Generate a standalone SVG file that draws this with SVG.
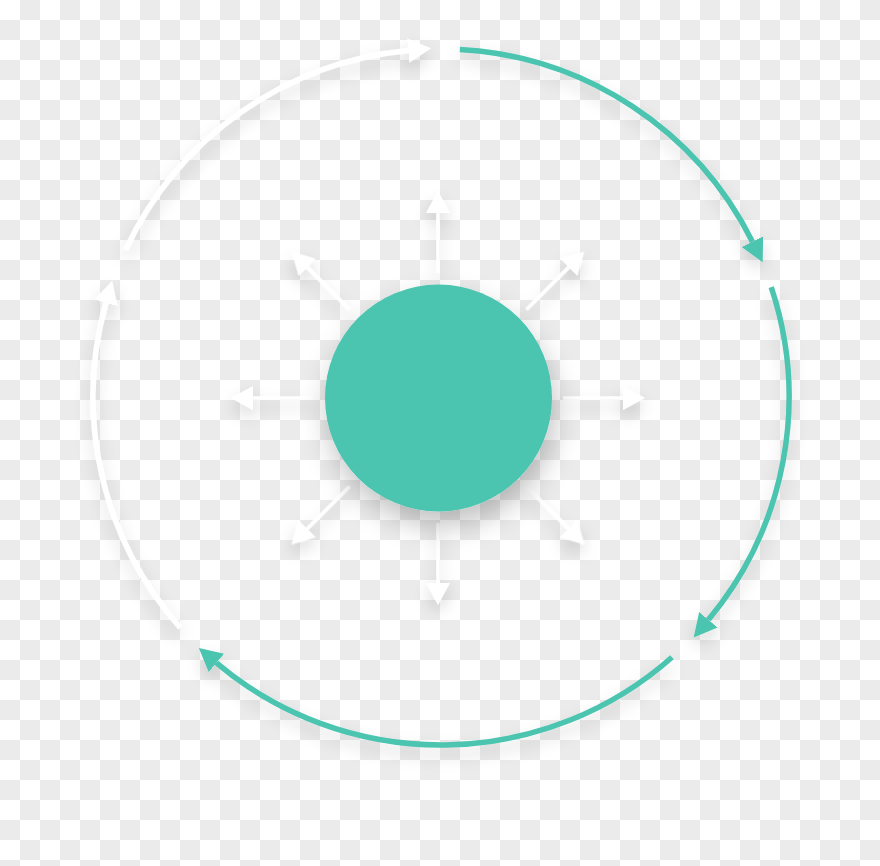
<svg xmlns="http://www.w3.org/2000/svg" width="880" height="866" viewBox="0 0 880 866">
  <defs>
    <pattern id="checker" x="0" y="0" width="40" height="40" patternUnits="userSpaceOnUse">
      <rect width="40" height="40" fill="#ffffff"/>
      <rect x="20" y="0" width="20" height="20" fill="#ebebeb"/>
      <rect x="0" y="20" width="20" height="20" fill="#ebebeb"/>
    </pattern>
    <filter id="shadowBig" x="-40%" y="-40%" width="180%" height="180%">
      <feDropShadow dx="3" dy="14" stdDeviation="14" flood-color="#000" flood-opacity="0.24"/>
    </filter>
    <filter id="shadowSoft" x="-30%" y="-30%" width="160%" height="160%">
      <feDropShadow dx="0" dy="8" stdDeviation="8" flood-color="#000" flood-opacity="0.16"/>
    </filter>
    <marker id="headTeal" markerUnits="userSpaceOnUse" markerWidth="26" markerHeight="28" viewBox="0 -14 26 28" refX="0" refY="0" orient="auto">
      <path d="M0,-12 L23,0 L0,12 z" fill="#4bc4b0"/>
    </marker>
    <marker id="headWhite" markerUnits="userSpaceOnUse" markerWidth="26" markerHeight="28" viewBox="0 -14 26 28" refX="0" refY="0" orient="auto">
      <path d="M0,-12 L23,0 L0,12 z" fill="#ffffff"/>
    </marker>
    <g id="ray">
      <line x1="0" y1="-125" x2="0" y2="-188" stroke="#ffffff" stroke-width="3.5"/>
      <path d="M0,-207 L12,-185 L-12,-185 z" fill="#ffffff"/>
    </g>
  </defs>
  <style>
    .teal { fill: none; stroke: #4bc4b0; stroke-width: 5.5; }
    .white { fill: none; stroke: #ffffff; stroke-width: 5.5; }
  </style>

  <rect id="background" x="0" y="0" width="880" height="866" fill="url(#checker)"/>

  <g id="connectors">
    <g id="outer-ring" filter="url(#shadowSoft)">
      <path class="teal" d="M459.8,49.5 A348,348 0 0 1 752.4,241.7" marker-end="url(#headTeal)"/>
      <path class="teal" d="M771.2,287.2 A348,348 0 0 1 708.4,619.8" marker-end="url(#headTeal)"/>
      <path class="teal" d="M672.0,657.2 A348,348 0 0 1 216.4,662.8" marker-end="url(#headTeal)"/>
      <path class="white" d="M180.3,627.6 A348,348 0 0 1 106.0,302.8" marker-end="url(#headWhite)"/>
      <path class="white" d="M125.6,249.9 A348,348 0 0 1 408.3,50.5" marker-end="url(#headWhite)"/>
    </g>
    <g id="rays" filter="url(#shadowSoft)" transform="translate(438,398)">
      <use href="#ray"/>
      <use href="#ray" transform="rotate(45)"/>
      <use href="#ray" transform="rotate(90)"/>
      <use href="#ray" transform="rotate(135)"/>
      <use href="#ray" transform="rotate(180)"/>
      <use href="#ray" transform="rotate(225)"/>
      <use href="#ray" transform="rotate(270)"/>
      <use href="#ray" transform="rotate(315)"/>
    </g>
  </g>

  <g id="center-node" filter="url(#shadowBig)">
    <circle cx="438.5" cy="398" r="113.5" fill="#4bc4b0"/>
  </g>
</svg>
